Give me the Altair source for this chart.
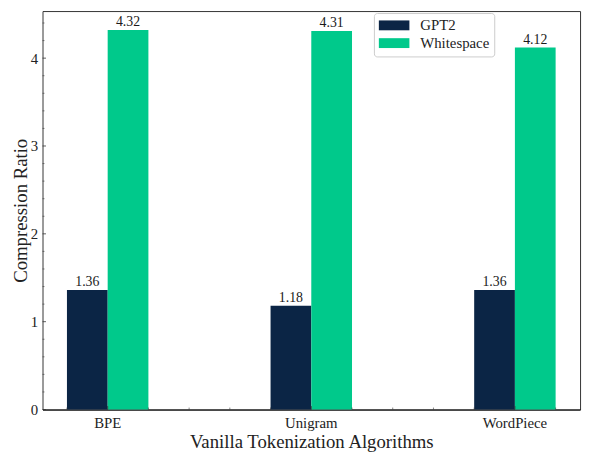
import altair as alt
import pandas as pd

algorithms = ["BPE", "Unigram", "WordPiece"]
series = ["GPT2", "Whitespace"]
gpt2 = [1.36, 1.18, 1.36]
whitespace = [4.32, 4.31, 4.12]
colors = ["#0b2545", "#00c98b"]

y_major = [0, 1, 2, 3, 4]
y_minor = [round(i * 0.2, 1) for i in range(23) if i % 5 != 0]
x_major = [0, 1, 2]
x_minor = [-0.2, 0.2, 0.4, 0.6, 0.8, 1.2, 1.4, 1.6, 1.8, 2.2]

rows = []
for a, g, w in zip(algorithms, gpt2, whitespace):
    rows.append({"algo": a, "series": "GPT2", "value": g, "label": f"{g:.2f}"})
    rows.append({"algo": a, "series": "Whitespace", "value": w, "label": f"{w:.2f}"})
df = pd.DataFrame(rows)

FONT = "Liberation Serif"
H = 404
W = 545

xband = alt.Scale(domain=algorithms, paddingInner=0.6, paddingOuter=0.12)
yscale = alt.Scale(domain=[0, 4.536], nice=False, zero=True)

legend_shape = "M-1,-0.667L3.13,-0.667L3.13,0.667L-1,0.667Z"

bars = alt.Chart(df).mark_bar().encode(
    x=alt.X("algo:N", scale=xband, sort=algorithms,
            axis=alt.Axis(title="Vanilla Tokenization Algorithms", labelAngle=0,
                          ticks=False, tickSize=0, domain=True, domainColor="#000",
                          labelPadding=6, labelFontSize=15, titleFontSize=19,
                          titlePadding=3, labelColor="#222", titleColor="#222",
                          titleFontWeight="normal")),
    xOffset=alt.XOffset("series:N", sort=series,
                        scale=alt.Scale(paddingInner=0, paddingOuter=0)),
    y=alt.Y("value:Q", scale=yscale,
            axis=alt.Axis(title="Compression Ratio", values=y_major, format="d",
                          ticks=False, tickSize=0, domain=False, grid=False,
                          labelPadding=5, labelFontSize=15, titleFontSize=19,
                          titleX=-16, titleY=H / 2, titleBaseline="alphabetic",
                          titleAngle=270, titleAlign="center",
                          labelColor="#222", titleColor="#222",
                          titleFontWeight="normal")),
    color=alt.Color("series:N", sort=series,
                    scale=alt.Scale(domain=series, range=colors),
                    legend=alt.Legend(title=None, orient="none", legendX=336, legendY=2,
                                      symbolType=legend_shape, symbolSize=225,
                                      symbolStrokeWidth=0, labelFontSize=15,
                                      labelOffset=27, rowPadding=2, padding=5,
                                      strokeColor="#cccccc", cornerRadius=3,
                                      fillColor="white", labelColor="#222")),
)

text = alt.Chart(df).mark_text(baseline="bottom", dy=-1, fontSize=14,
                               color="#1a1a1a", font=FONT).encode(
    x=alt.X("algo:N", scale=xband, sort=algorithms, axis=None),
    xOffset=alt.XOffset("series:N", sort=series),
    y=alt.Y("value:Q", scale=yscale),
    text="label:N",
)

ytick_df = pd.DataFrame(
    [{"v": v, "len": 3.5} for v in y_major] + [{"v": v, "len": 2} for v in y_minor]
)
yticks_major = alt.Chart(ytick_df[ytick_df["len"] > 3]).mark_rule(color="#333", strokeWidth=0.8).encode(
    y=alt.Y("v:Q", scale=yscale), x=alt.value(0), x2=alt.value(3.5))
yticks_minor = alt.Chart(ytick_df[ytick_df["len"] < 3]).mark_rule(color="#333", strokeWidth=0.6).encode(
    y=alt.Y("v:Q", scale=yscale), x=alt.value(0), x2=alt.value(2))

xq = alt.Scale(domain=[-0.32, 2.32], nice=False, zero=False)
xtick_major = alt.Chart(pd.DataFrame({"p": x_major})).mark_rule(color="#333", strokeWidth=0.8).encode(
    x=alt.X("p:Q", scale=xq, axis=None), y=alt.value(H), y2=alt.value(H - 3.5))
xtick_minor = alt.Chart(pd.DataFrame({"p": x_minor})).mark_rule(color="#333", strokeWidth=0.6).encode(
    x=alt.X("p:Q", scale=xq, axis=None), y=alt.value(H), y2=alt.value(H - 2))

chart = alt.layer(bars, text, yticks_major, yticks_minor, xtick_major, xtick_minor).resolve_scale(
    x="independent"
).properties(
    width=W, height=H,
    autosize=alt.AutoSizeParams(type="none"),
    padding={"left": 35, "top": 0, "right": 4, "bottom": 43},
).configure(font=FONT).configure_view(stroke="#333", strokeWidth=1)

chart.save("out.html", embed_options={"renderer": "svg", "actions": False})
